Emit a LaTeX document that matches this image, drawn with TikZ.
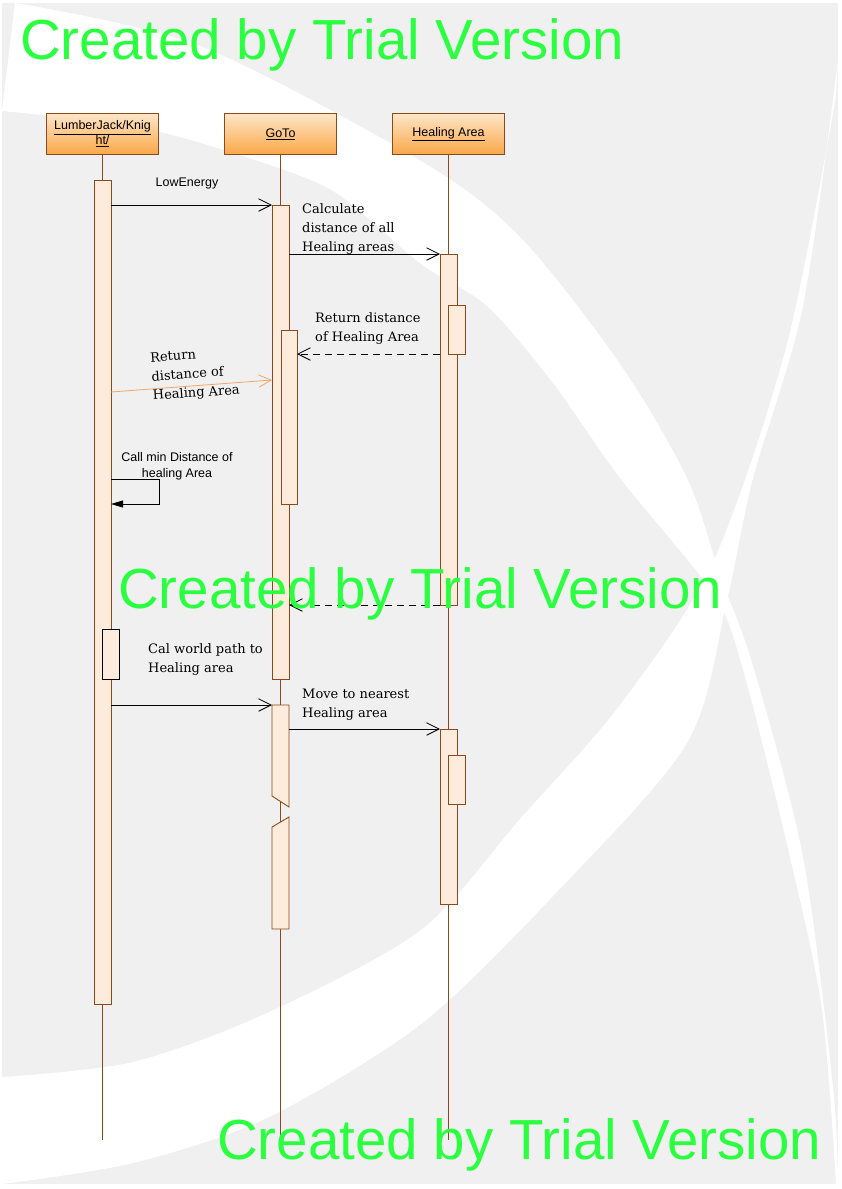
\documentclass[tikz,border=0pt]{standalone}
\usepackage{fontspec}
\setmainfont{DejaVu Serif}
\setsansfont{Liberation Sans}
\usetikzlibrary{positioning,calc,arrows.meta}
\definecolor{ground}{HTML}{F0F0F0}
\definecolor{headtop}{HTML}{FFE6C8}
\definecolor{headbot}{HTML}{FAA748}
\definecolor{rim}{HTML}{8B4A1E}
\definecolor{barfill}{HTML}{FDEBDC}
\definecolor{retorange}{HTML}{F5A468}
\definecolor{trial}{HTML}{2AFF40}
\tikzset{
  head/.style    = {draw=rim, line width=0.9pt, top color=headtop, bottom color=headbot, minimum width=112pt, minimum height=41pt, inner sep=0pt, align=center, font=\fontsize{12.5}{15}\selectfont\sffamily},
  life/.style    = {draw=rim, line width=0.8pt},
  actbar/.style  = {draw=rim, fill=barfill, line width=0.9pt, minimum width=17pt, inner sep=0pt, outer sep=0pt, anchor=north},
  msg/.style     = {draw=black, line width=0.8pt, -{Straight Barb[length=12.5pt,width=12.5pt]}},
  retmsg/.style  = {msg, dash pattern=on 7.5pt off 4.5pt},
  selfmsg/.style = {draw=black, line width=0.8pt, -{Triangle[length=12pt,width=7pt]}},
  sanslab/.style = {font=\fontsize{12.5}{16}\selectfont\sffamily, align=center, inner sep=0pt},
  serlab/.style  = {font=\fontsize{13}{19}\selectfont, align=left, inner sep=0pt, anchor=base west},
  trialmark/.style = {font=\fontsize{56.5}{60}\selectfont\sffamily\color{trial}, inner sep=0pt, anchor=base west},
}
\begin{document}
\begin{tikzpicture}[x=1pt,y=-1pt]
\path[use as bounding box] (0,0) rectangle (841,1189);

% ---- background ---------------------------------------------------------
\fill[white] (0,0) rectangle (841,1189);
\fill[ground] (2,3) rectangle (838,1184);
\fill[white] plot[smooth] coordinates {(15,3) (200,46) (421,161) (520,237) (620,364) (687,478) (720,575) (753,666) (803,857) (833,1087) (838,1184)}
  -- plot[smooth] coordinates {(836,1184) (822,1010) (790,857) (742,666) (712,592) (620,478) (553,383) (487,306) (421,264) (333,191) (233,153) (133,126) (2,111)} -- cycle;
\fill[white] plot[smooth] coordinates {(838,60) (803,306) (753,478) (727,600) (687,743) (553,896) (421,1024) (267,1118) (133,1163) (2,1184)}
  -- plot[smooth] coordinates {(2,1077) (133,1062) (267,1013) (421,930) (520,819) (620,705) (713,562) (787,344) (836,96)} -- cycle;

% ---- lifelines ----------------------------------------------------------
\node[head] (lj) at (102.5,134) {\underline{LumberJack/Knig}\\\underline{ht/}};
\node[head] (goto) at (280.5,134) {\underline{GoTo}};
\node[head] (heal) at (448.5,134) {\underline{Healing Area}};

\coordinate (ljend) at (102.5,1140);
\coordinate (gotoend) at (280.5,1140);
\coordinate (healend) at (448.5,1140);
\draw[life] (lj.south) -- (ljend);
\draw[life] (goto.south) -- (gotoend);
\draw[life] (heal.south) -- (healend);

% ---- activations --------------------------------------------------------
\node[actbar, minimum height=824pt] (ljbar) at (102.5,180) {};
\node[actbar, draw=black, minimum height=50pt] (ljin) at (110.5,629) {};
\node[actbar, minimum height=474pt] (gt1) at (280.5,205) {};
\node[actbar, minimum width=16pt, minimum height=174pt] (gn1) at (289,330) {};
\node[actbar, minimum height=351pt] (ha1) at (448.5,254) {};
\node[actbar, minimum height=49pt] (hn1) at (456.5,305) {};
\node[actbar, minimum height=175pt] (ha2) at (448.5,729) {};
\node[actbar, minimum height=49pt] (hn2) at (456.5,755) {};

% GoTo bar with the broken end
\coordinate (gt2) at (272,705);
\coordinate (gt3) at (272,929);
\filldraw[draw=rim, fill=barfill, line width=0.9pt] (gt2) -- ++(17,0) -- ++(0,102) -- ++(-17,-11) -- cycle;
\filldraw[draw=rim, fill=barfill, line width=0.9pt] (gt3) -- ++(0,-102) -- ++(17,-10) -- ++(0,112) -- cycle;

% ---- messages -----------------------------------------------------------
\draw[msg] (ljbar.east |- gt1.north) -- (gt1.north west);
\node[sanslab] (lowlab) at (187,183) {LowEnergy};

\draw[msg] (gt1.east |- ha1.north) -- (ha1.north west);
\node[serlab] (calclab) at (302,251) {Calculate\\distance of all\\Healing areas};

\draw[retmsg] (ha1.west |- hn1.south) -- (gn1.east |- hn1.south);
\node[serlab] (retlab) at (315,341) {Return distance\\of Healing Area};

\coordinate (oret) at (0,392);
\coordinate (oend) at (0,380);
\draw[msg, draw=retorange] (ljbar.east |- oret) -- (gt1.west |- oend);
\node[serlab, rotate=4] (oretlab) at (153,400) {Return\\distance of\\Healing Area};

\coordinate (selfa) at (159,479);
\coordinate (selfb) at (159,504);
\draw[selfmsg] (ljbar.east |- selfa) -- (selfa) -- (selfb) -- (ljbar.east |- selfb);
\node[sanslab] (selflab) at (177,466) {Call min Distance of\\healing Area};

\draw[retmsg] (ha1.south west) -- (gt1.east |- ha1.south);

\draw[msg] (ljbar.east |- gt2) -- (gt2);
\node[serlab] (pathlab) at (148,672) {Cal world path to\\Healing area};

\draw[msg] (gt2 -| gt1.east) ++(0,24) coordinate (mv) -- (ha2.north west);
\node[serlab] (movelab) at (302,717) {Move to nearest\\Healing area};

% ---- trial marks --------------------------------------------------------
\node[trialmark] (tm1) at (20,59) {Created by Trial Version};
\node[trialmark] (tm2) at (118,608) {Created by Trial Version};
\node[trialmark] (tm3) at (217,1159) {Created by Trial Version};

\end{tikzpicture}
\end{document}
